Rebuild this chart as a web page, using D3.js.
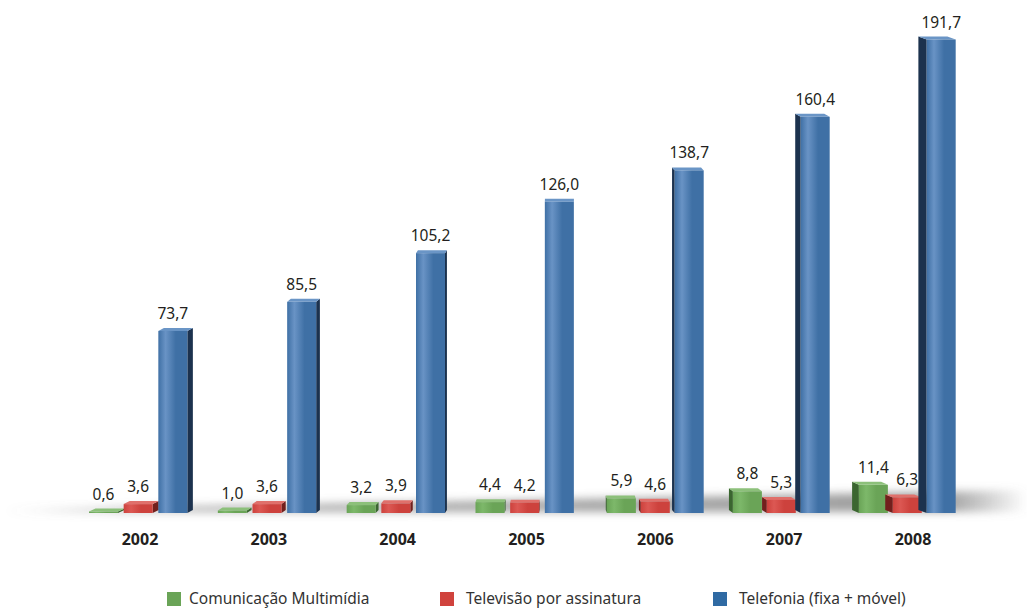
<!DOCTYPE html>
<html>
<head>
<meta charset="utf-8">
<script src="https://cdn.jsdelivr.net/npm/d3@7"></script>
<style>
  body { margin: 0; background: #fff; }
  text { font-family: "Noto Sans", "Open Sans", sans-serif; fill: #231f20; }
</style>
</head>
<body>
<script>
// data
const years = ["2002", "2003", "2004", "2005", "2006", "2007", "2008"];
const series = ["Comunicação Multimídia", "Televisão por assinatura", "Telefonia (fixa + móvel)"];
const multimidia = [0.6, 1.0, 3.2, 4.4, 5.9, 8.8, 11.4];
const tvAssinatura = [3.6, 3.6, 3.9, 4.2, 4.6, 5.3, 6.3];
const telefonia = [73.7, 85.5, 105.2, 126.0, 138.7, 160.4, 191.7];

const w = 1027;
const h = 609;
const base = 513;
const barW = 29;
const topDepth = 3;

// front / side / top colours per series
const colors = [
  { front: "#6aa457", light: "#7db86a", side: "#3b6630", top: "#8cc07a" },
  { front: "#cd423d", light: "#dc5853", side: "#72201d", top: "#e0706b" },
  { front: "#3f70a5", light: "#6993c5", side: "#1c324e", top: "#6a95c6" }
];
const legendColors = ["#6aa457", "#d0433d", "#2f6aa3"];

const rows = [multimidia, tvAssinatura, telefonia];
const dataset = [];
years.forEach((yr, i) => {
  rows.forEach((r, s) => dataset.push({ year: yr, s: s, value: r[i] }));
});

const xScale = d3.scalePoint().domain(years).range([140, 913]);
const inner = d3.scaleBand().domain(d3.range(3)).range([-52, 52]);
const yScale = d3.scaleLinear().domain([0, 200]).range([base, base - 494]);

const svg = d3.select("body")
  .append("svg")
  .attr("width", w)
  .attr("height", h);

const defs = svg.append("defs");

// floor shadow
const blur = defs.append("filter").attr("id", "blur")
  .attr("x", "-10%").attr("y", "-200%").attr("width", "120%").attr("height", "500%");
blur.append("feGaussianBlur").attr("stdDeviation", 4);

const sg = defs.append("linearGradient").attr("id", "shadowGrad");
sg.append("stop").attr("offset", "0%").attr("stop-color", "#777").attr("stop-opacity", 0);
sg.append("stop").attr("offset", "12%").attr("stop-color", "#777").attr("stop-opacity", 0.55);
sg.append("stop").attr("offset", "92%").attr("stop-color", "#777").attr("stop-opacity", 0.7);
sg.append("stop").attr("offset", "100%").attr("stop-color", "#777").attr("stop-opacity", 0);

svg.append("path")
  .attr("d", `M5,${base - 3} L1027,${base - 23} L1027,${base - 1} L5,${base - 1} Z`)
  .attr("fill", "url(#shadowGrad)")
  .attr("filter", "url(#blur)");

// front gradients (highlight on the left)
colors.forEach((c, i) => {
  const g = defs.append("linearGradient").attr("id", "front" + i);
  g.append("stop").attr("offset", "0%").attr("stop-color", c.front);
  g.append("stop").attr("offset", "25%").attr("stop-color", c.light);
  g.append("stop").attr("offset", "60%").attr("stop-color", c.front);
  g.append("stop").attr("offset", "100%").attr("stop-color", c.front);
});

// perspective: side depth depends on the distance to the vanishing point
const vx = 570;
function sideDx(cx) {
  return cx < vx ? (vx - cx) * 0.014 : -(cx - vx) * 0.022;
}

const bars = svg.append("g");

dataset.forEach(d => {
  const slot = xScale(d.year) + inner(d.s);
  const cx = slot + inner.bandwidth() / 2;
  const dx = sideDx(cx);
  const x0 = dx > 0 ? slot + 1 : slot + inner.bandwidth() - barW - 1 + dx;
  const x1 = x0 + barW;
  const yt = yScale(d.value);
  const c = colors[d.s];
  d.x0 = x0; d.x1 = x1; d.yt = yt;

  const g = bars.append("g").attr("class", "bar");

  // side face
  const sx = dx > 0 ? x1 : x0;
  g.append("path")
    .attr("d", `M${sx},${yt} L${sx + dx},${yt - topDepth} L${sx + dx},${base - topDepth} L${sx},${base} Z`)
    .attr("fill", c.side);

  // top face
  g.append("path")
    .attr("d", `M${x0},${yt} L${x0 + dx},${yt - topDepth} L${x1 + dx},${yt - topDepth} L${x1},${yt} Z`)
    .attr("fill", c.top);

  // front face
  g.append("rect")
    .attr("x", x0)
    .attr("y", yt)
    .attr("width", barW)
    .attr("height", base - yt)
    .attr("fill", "url(#front" + d.s + ")");
});

// value labels
svg.selectAll(".val")
  .data(dataset)
  .enter()
  .append("text")
  .attr("class", "val")
  .attr("x", d => (d.x0 + d.x1) / 2)
  .attr("y", d => d.yt - 12)
  .attr("text-anchor", "middle")
  .style("font-size", "15.5px")
  .text(d => d3.format(".1f")(d.value).replace(".", ","));

// year labels
svg.selectAll(".year")
  .data(years)
  .enter()
  .append("text")
  .attr("class", "year")
  .attr("x", d => xScale(d))
  .attr("y", 545)
  .attr("text-anchor", "middle")
  .style("font-size", "16px")
  .style("font-weight", "bold")
  .text(d => d);

// legend
const legendX = [167, 440, 713];
const legend = svg.selectAll(".legend")
  .data(series)
  .enter()
  .append("g")
  .attr("class", "legend")
  .attr("transform", (d, i) => `translate(${legendX[i]}, 591)`);

legend.append("rect")
  .attr("y", 1)
  .attr("width", 14)
  .attr("height", 14)
  .attr("fill", (d, i) => legendColors[i]);

legend.append("text")
  .attr("x", (d, i) => i === 0 ? 22 : 26)
  .attr("y", 13)
  .style("font-size", "15.5px")
  .style("fill", "#333")
  .text(d => d);
</script>
</body>
</html>
